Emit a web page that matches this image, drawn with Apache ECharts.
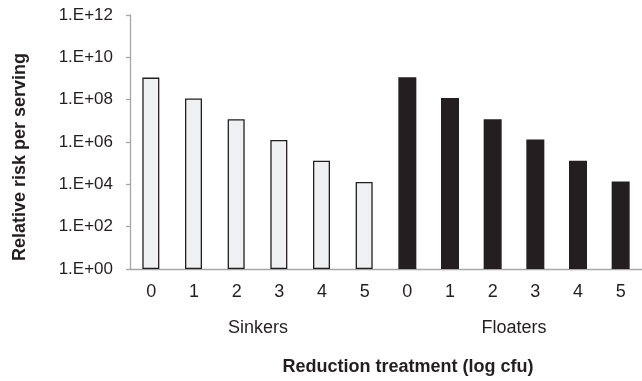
<!DOCTYPE html>
<html>
<head>
<meta charset="utf-8">
<script src="https://cdn.jsdelivr.net/npm/echarts@6/dist/echarts.min.js"></script>
<style>html,body{margin:0;padding:0;background:#fff}#c{width:642px;height:381px}</style>
</head>
<body>
<div id="c"></div>
<script>
// Data
const reductions = ['0', '1', '2', '3', '4', '5'];
const groups = ['Sinkers', 'Floaters'];
const sinkers = [1.1e9, 1.15e8, 1.2e7, 1.25e6, 1.3e5, 1.3e4];
const floaters = [1.15e9, 1.2e8, 1.2e7, 1.3e6, 1.3e5, 1.35e4];
const yTicks = ['1.E+00', '1.E+02', '1.E+04', '1.E+06', '1.E+08', '1.E+10', '1.E+12'];

const cats = reductions.concat(reductions);
const nulls = reductions.map(() => null);
const sinkData = sinkers.concat(nulls);
const floatData = nulls.concat(floaters);

const FONT = 'Liberation Sans, Arial, sans-serif';
const TXT = '#231f20';
const AX = '#a6a6a6';

const chart = echarts.init(document.getElementById('c'), null, {renderer: 'canvas'});
chart.setOption({
  animation: false,
  backgroundColor: '#ffffff',
  grid: {left: 130, top: 15, width: 514, height: 255, containLabel: false},
  xAxis: [
    {
      type: 'category', data: cats, position: 'bottom',
      axisLine: {lineStyle: {color: AX, width: 1.3}},
      axisTick: {interval: 0, length: 33, lineStyle: {color: AX, width: 1.3}},
      axisLabel: {interval: 0, margin: 14, color: TXT, fontSize: 18, fontFamily: FONT}
    },
    {
      type: 'category', data: groups, position: 'bottom', offset: 0,
      axisLine: {show: false},
      axisTick: {interval: 0, length: 68, lineStyle: {color: AX, width: 1.3}},
      axisLabel: {interval: 0, margin: 50, color: TXT, fontSize: 18, fontFamily: FONT},
      name: 'Reduction treatment (log cfu)', nameLocation: 'middle', nameGap: 89,
      nameTextStyle: {color: TXT, fontSize: 18, fontWeight: 'bold', fontFamily: FONT, padding: [0, 0, 0, 44]}
    }
  ],
  yAxis: {
    type: 'log', logBase: 10, min: 1, max: 1e12, interval: 2,
    axisLine: {show: true, lineStyle: {color: AX, width: 1.3}},
    axisTick: {show: true, length: 4, lineStyle: {color: AX, width: 1.3}},
    splitLine: {show: false},
    axisLabel: {
      margin: 17, color: TXT, fontSize: 17, fontFamily: FONT, padding: [4, 0, 0, 0],
      formatter: function (v) {
        const e = Math.round(Math.log10(v));
        return yTicks[e / 2] !== undefined ? yTicks[e / 2] : '';
      }
    },
    name: 'Relative risk per serving', nameLocation: 'middle', nameGap: 101,
    nameTextStyle: {color: TXT, fontSize: 18, fontWeight: 'bold', fontFamily: FONT, padding: [0, 30, 0, 0]}
  },
  series: [
    {
      name: 'Sinkers', type: 'bar', data: sinkData, barWidth: 17, barGap: '-100%',
      itemStyle: {color: '#eff0f1', borderColor: TXT, borderWidth: 1.3}
    },
    {
      name: 'Floaters', type: 'bar', data: floatData, barWidth: 18, barGap: '-100%',
      itemStyle: {color: TXT}
    }
  ]
});
</script>
</body>
</html>
